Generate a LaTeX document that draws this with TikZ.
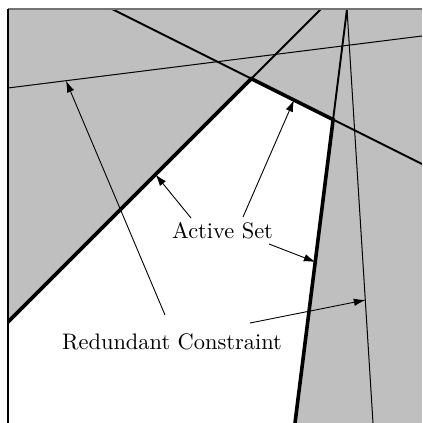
\documentclass[tikz,border=0pt]{standalone}
\usetikzlibrary{arrows.meta}
\begin{document}
\begin{tikzpicture}[x=0.446pt,y=-0.446pt,
  thinline/.style={line width=0.45pt},
  medline/.style={line width=0.85pt},
  activeline/.style={line width=1.6pt},
  pointer/.style={line width=0.4pt,-{Latex[length=5.2pt,width=3.4pt]}},
  lbl/.style={font=\normalsize,inner sep=0pt,anchor=base}]
\useasboundingbox (0,0) rectangle (422,423);
% named points
\coordinate (TL) at (8,9);
\coordinate (BR) at (422,423);
\coordinate (L1a) at (8,88);
\coordinate (L1b) at (422,36);
\coordinate (L2a) at (112,9);
\coordinate (P23) at (251.3,78.7);
\coordinate (P24) at (333.1,119.6);
\coordinate (L2b) at (422,164);
\coordinate (L3a) at (8,322);
\coordinate (L3b) at (321,9);
\coordinate (L4a) at (347,9);
\coordinate (L4b) at (295,423);
\coordinate (L5b) at (373,423);
% background
\fill[lightgray] (TL) rectangle (BR);
\fill[white] (L3a) -- (P23) -- (P24) -- (L4b) -- (8,423) -- cycle;
\begin{scope}
\clip (TL) rectangle (BR);
\draw[thinline] (L1a) -- (L1b);
\draw[thinline] (L4a) -- (L5b);
\draw[medline] (L2a) -- (P23);
\draw[medline] (P24) -- (L2b);
\draw[medline] (P23) -- (L3b);
\draw[medline] (L4a) -- (P24);
\draw[activeline] (L3a) -- (P23) -- (P24) -- (L4b);
\end{scope}
\draw[line width=0.8pt,black!55] (TL) -- (422,9);
\draw[line width=0.7pt] (TL) -- (8,423);
% labels
\node[lbl] (active) at (222.5,238) {Active Set};
\node[lbl] (redund) at (172,349) {Redundant Constraint};
% pointer ends
\coordinate (a1t) at (191,218);
\coordinate (a1h) at (155.5,174.5);
\coordinate (a2t) at (243,217);
\coordinate (a2h) at (294,100);
\coordinate (a3t) at (269,244);
\coordinate (a3h) at (315.5,262);
\coordinate (r1t) at (165,315);
\coordinate (r1h) at (66,80.7);
\coordinate (r2t) at (250,323);
\coordinate (r2h) at (365.5,300);
\draw[pointer] (a1t) -- (a1h);
\draw[pointer] (a2t) -- (a2h);
\draw[pointer] (a3t) -- (a3h);
\draw[pointer] (r1t) -- (r1h);
\draw[pointer] (r2t) -- (r2h);
\end{tikzpicture}
\end{document}
